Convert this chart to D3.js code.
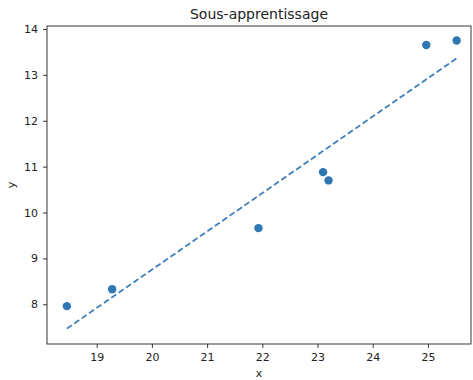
<!DOCTYPE html>
<html>
<head>
<meta charset="utf-8">
<script src="https://cdn.jsdelivr.net/npm/d3@7"></script>
<style>
  body { margin: 0; background: #fff; }
  text { font-family: "DejaVu Sans", sans-serif; fill: #222; }
</style>
</head>
<body>
<script>
let w = 473;
let h = 380;
let margin = {top: 26, right: 2, bottom: 36, left: 47};

// points
let xs = [18.46, 19.28, 21.93, 23.10, 23.20, 24.97, 25.52];
let ys = [7.96, 8.33, 9.66, 10.88, 10.70, 13.65, 13.75];
// dashed fit line ends
let lineX = [18.46, 25.52];
let lineY = [7.47, 13.36];
let xTicks = [19, 20, 21, 22, 23, 24, 25];
let yTicks = [8, 9, 10, 11, 12, 13, 14];

let svg = d3.select("body")
            .append("svg")
            .attr("width", w)
            .attr("height", h);

let x = d3.scaleLinear().domain([18.10, 25.78]).range([margin.left, w - margin.right]);
let y = d3.scaleLinear().domain([7.135, 14.065]).range([h - margin.bottom, margin.top]);

// axes
svg.append("g")
  .attr("transform", "translate(0," + (h - margin.bottom) + ")")
  .call(d3.axisBottom(x).tickValues(xTicks).tickSize(4).tickPadding(5).tickFormat(d3.format("d")))
  .call(g => g.select(".domain").remove())
  .selectAll("text").attr("font-size", 11).attr("font-family", "DejaVu Sans");

svg.append("g")
  .attr("transform", "translate(" + margin.left + ",0)")
  .call(d3.axisLeft(y).tickValues(yTicks).tickSize(4).tickPadding(5).tickFormat(d3.format("d")))
  .call(g => g.select(".domain").remove())
  .selectAll("text").attr("font-size", 11).attr("font-family", "DejaVu Sans");

svg.selectAll(".tick line").attr("stroke", "#222").attr("stroke-width", 0.9);

// frame
svg.append("rect")
  .attr("x", margin.left)
  .attr("y", margin.top)
  .attr("width", w - margin.right - margin.left)
  .attr("height", h - margin.bottom - margin.top)
  .attr("fill", "none")
  .attr("stroke", "#222")
  .attr("stroke-width", 0.9);

// dashed line
svg.append("path")
  .datum(d3.zip(lineX, lineY))
  .attr("d", d3.line().x(d => x(d[0])).y(d => y(d[1])))
  .attr("fill", "none")
  .attr("stroke", "#3f80bb")
  .attr("stroke-width", 1.8)
  .attr("stroke-dasharray", "6,3");

// points
svg.selectAll("circle")
  .data(d3.zip(xs, ys))
  .enter()
  .append("circle")
    .attr("cx", d => x(d[0]))
    .attr("cy", d => y(d[1]))
    .attr("r", 4.2)
    .attr("fill", "#2f77b3");

// labels
svg.append("text")
  .attr("x", (margin.left + w - margin.right) / 2)
  .attr("y", 19)
  .attr("text-anchor", "middle")
  .attr("font-size", 14)
  .text("Sous-apprentissage");

svg.append("text")
  .attr("x", (margin.left + w - margin.right) / 2)
  .attr("y", 377)
  .attr("text-anchor", "middle")
  .attr("font-size", 11)
  .text("x");

svg.append("text")
  .attr("transform", "translate(15," + ((margin.top + h - margin.bottom) / 2) + ") rotate(-90)")
  .attr("text-anchor", "middle")
  .attr("font-size", 11)
  .text("y");
</script>
</body>
</html>
